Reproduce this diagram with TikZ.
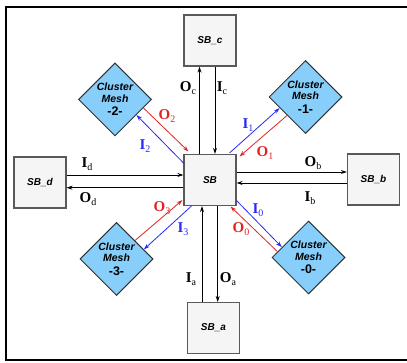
\documentclass[tikz,border=0pt]{standalone}
\usepackage{fontspec}
\setmainfont{Liberation Serif}
\setsansfont{Liberation Sans}
\usepackage{xcolor}
\usetikzlibrary{shapes.geometric,arrows.meta,calc}

\definecolor{meshblue}{RGB}{135,206,250}
\definecolor{sigred}{RGB}{225,35,35}
\definecolor{sigblue}{RGB}{40,40,250}
\definecolor{boxfill}{RGB}{245,245,245}

% label with lowered index
\newcommand{\sig}[2]{\textbf{#1}\raisebox{-3.5pt}{\fontsize{10}{10}\selectfont #2}}

\tikzset{
  sbbox/.style={draw=black!65, line width=1.1pt, fill=boxfill, minimum width=52pt, minimum height=51pt,
    inner sep=0pt, font=\sffamily\bfseries\itshape\fontsize{10}{12}\selectfont},
  meshnode/.style={diamond, draw=black!80, line width=1pt, fill=meshblue, minimum width=73pt, minimum height=73pt,
    inner sep=0pt, align=center, font=\sffamily\bfseries\fontsize{10.5}{11.5}\selectfont},
  link/.style={line width=0.8pt, -{Stealth[length=6pt,width=4pt]}},
  lbl/.style={inner sep=0pt, font=\fontsize{15}{15}\selectfont}
}

\begin{document}
\begin{tikzpicture}[x=1pt,y=-1pt]
        \useasboundingbox (0,0) rectangle (407,363);

        % Frame
        \draw[line width=2pt] (407,7) -- (6,7) -- (6,360) -- (407,360);

        % Switch boxes
        \node[sbbox] (sb)  at (210,180)   {SB};
        \node[sbbox] (sbc) at (210,40.5)  {SB\_c};
        \node[sbbox] (sba) at (213.5,328) {SB\_a};
        \node[sbbox] (sbd) at (40,182.5)  {SB\_d};
        \node[sbbox] (sbb) at (373.5,179.5) {SB\_b};

        % Cluster meshes
        \node[meshnode] (cm2) at (115,99.5)   {\itshape Cluster\\\itshape Mesh\\[2pt]\fontsize{12.5}{13}\selectfont -2-};
        \node[meshnode] (cm1) at (305.5,97)   {\itshape Cluster\\\itshape Mesh\\[2pt]\fontsize{12.5}{13}\selectfont -1-};
        \node[meshnode] (cm3) at (116.5,259)  {\itshape Cluster\\\itshape Mesh\\[2pt]\fontsize{12.5}{13}\selectfont -3-};
        \node[meshnode] (cm0) at (308.5,257.5) {\itshape Cluster\\\itshape Mesh\\[2pt]\fontsize{12.5}{13}\selectfont -0-};

        % Lane positions
        \coordinate (oc) at (199.5,0);
        \coordinate (ic) at (215,0);
        \coordinate (ia) at (202,0);
        \coordinate (oa) at (217.7,0);
        \coordinate (id) at (0,175);
        \coordinate (od) at (0,187.7);
        \coordinate (ob) at (0,172);
        \coordinate (ib) at (0,183);

        % Black links to neighbour switch boxes
        \draw[link] (sb.north -| oc) -- (sbc.south -| oc);
        \draw[link] (sbc.south -| ic) -- (sb.north -| ic);
        \draw[link] (sba.north -| ia) -- (sb.south -| ia);
        \draw[link] (sb.south -| oa) -- (sba.north -| oa);
        \draw[link] (sbd.east |- id) -- (sb.west |- id);
        \draw[link] (sb.west |- od) -- (sbd.east |- od);
        \draw[link] (sb.east |- ob) -- (sbb.west |- ob);
        \draw[link] (sbb.west |- ib) -- (sb.east |- ib);

        % Links to cluster meshes
        \draw[link, sigred]  ($(cm2.east)!0.23!(cm2.south)$) -- ($(sb.north west)+(5,-2.5)$);
        \draw[link, sigblue] ($(sb.north west)+(1,10)$) -- ($(cm2.east)!0.42!(cm2.south)$);
        \draw[link, sigblue] ($(sb.north east)+(-7,-1)$) -- ($(cm1.west)!0.3!(cm1.south)$);
        \draw[link, sigred]  ($(cm1.west)!0.5!(cm1.south)$) -- ($(sb.north east)+(3,2.5)$);
        \draw[link, sigred]  ($(cm3.north)!0.5!(cm3.east)$) -- ($(sb.south west)+(-1,-6)$);
        \draw[link, sigblue] ($(sb.south west)+(8,0)$) -- ($(cm3.north)!0.74!(cm3.east)$);
        \draw[link, sigblue] ($(sb.south east)+(0,-5.5)$) -- ($(cm0.north)!0.72!(cm0.west)$);
        \draw[link, sigred]  ($(cm0.north)!0.84!(cm0.west)$) -- ($(sb.south east)+(-6,0.5)$);

        % Labels
        \node[lbl] (loc) at (188,88)  {\sig{O}{c}};
        \node[lbl] (lic) at (222,88)  {\sig{I}{c}};
        \node[lbl] (lia) at (191,279) {\sig{I}{a}};
        \node[lbl] (loa) at (228,279) {\sig{O}{a}};
        \node[lbl] (lid) at (87,164)  {\sig{I}{d}};
        \node[lbl] (lod) at (88,199)  {\sig{O}{d}};
        \node[lbl] (lob) at (313,163) {\sig{O}{b}};
        \node[lbl] (lib) at (310,198) {\sig{I}{b}};
        \node[lbl, text=sigred]  (lo2) at (167,116) {\sig{O}{2}};
        \node[lbl, text=sigblue] (li2) at (145,146) {\sig{I}{2}};
        \node[lbl, text=sigblue] (li1) at (248,125) {\sig{I}{1}};
        \node[lbl, text=sigred]  (lo1) at (265,153) {\sig{O}{1}};
        \node[lbl, text=sigred]  (lo3) at (162,208) {\sig{O}{3}};
        \node[lbl, text=sigblue] (li3) at (183,229) {\sig{I}{3}};
        \node[lbl, text=sigblue] (li0) at (258,210) {\sig{I}{0}};
        \node[lbl, text=sigred]  (lo0) at (241,229) {\sig{O}{0}};

    \end{tikzpicture}
\end{document}
